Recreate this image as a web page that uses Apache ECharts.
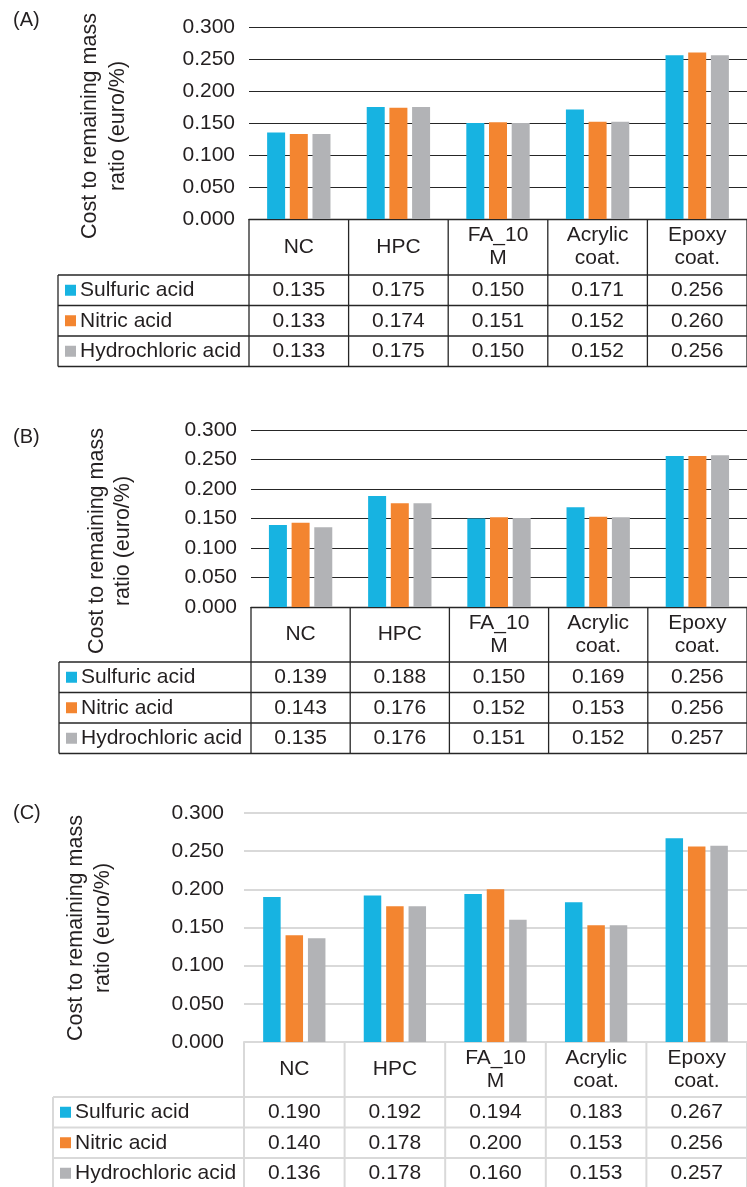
<!DOCTYPE html>
<html>
<head>
<meta charset="utf-8">
<script src="https://cdn.jsdelivr.net/npm/echarts@6/dist/echarts.min.js"></script>
<style>
  html, body { margin: 0; padding: 0; background: #fff; }
  #chart { width: 747px; height: 1187px; }
</style>
</head>
<body>
<div id="chart"></div>
<script>
// Categories and acid series
const categories = ['NC', 'HPC', 'FA_10\nM', 'Acrylic\ncoat.', 'Epoxy\ncoat.'];
const seriesNames = ['Sulfuric acid', 'Nitric acid', 'Hydrochloric acid'];
const yTicks = [0, 0.05, 0.1, 0.15, 0.2, 0.25, 0.3];
const axisTitle = 'Cost to remaining mass\nratio (euro/%)';

// Panel (A)
const sulfuricA = [0.135, 0.175, 0.150, 0.171, 0.256];
const nitricA   = [0.133, 0.174, 0.151, 0.152, 0.260];
const hydroA    = [0.133, 0.175, 0.150, 0.152, 0.256];
// Panel (B)
const sulfuricB = [0.139, 0.188, 0.150, 0.169, 0.256];
const nitricB   = [0.143, 0.176, 0.152, 0.153, 0.256];
const hydroB    = [0.135, 0.176, 0.151, 0.152, 0.257];
// Panel (C)
const sulfuricC = [0.190, 0.192, 0.194, 0.183, 0.267];
const nitricC   = [0.140, 0.178, 0.200, 0.153, 0.256];
const hydroC    = [0.136, 0.178, 0.160, 0.153, 0.257];

const colors = ['#17b3e1', '#f38530', '#b2b3b6'];
const FONT = '"Liberation Sans", Arial, Helvetica, sans-serif';
const FS = 21;
const TEXT = '#231f20';

const panels = [
  { label: '(A)', data: [sulfuricA, nitricA, hydroA],
    grid: { left: 249, top: 27, width: 508, height: 192 },
    tableLeft: 58, headerH: 56, rowH: 30.5, labelY: 20,
    titleX: 104, titleY: 126, titleLH: 28, tickMargin: 14,
    gridColor: '#262626', gridWidth: 1, tableColor: '#262626', tableWidth: 1.3,
    barWidth: 18, barGap: '26%' },
  { label: '(B)', data: [sulfuricB, nitricB, hydroB],
    grid: { left: 251, top: 430, width: 504, height: 177 },
    tableLeft: 59, headerH: 55, rowH: 30.5, labelY: 437,
    titleX: 110, titleY: 541, titleLH: 26, tickMargin: 14,
    gridColor: '#262626', gridWidth: 1, tableColor: '#262626', tableWidth: 1.3,
    barWidth: 18, barGap: '26%' },
  { label: '(C)', data: [sulfuricC, nitricC, hydroC],
    grid: { left: 244, top: 813, width: 504, height: 229 },
    tableLeft: 53, headerH: 55, rowH: 30.5, labelY: 813,
    titleX: 89.5, titleY: 928, titleLH: 27, tickMargin: 20,
    gridColor: '#d9d9d9', gridWidth: 2, tableColor: '#d9d9d9', tableWidth: 2,
    barWidth: 17.5, barGap: '28%' }
];

const chart = echarts.init(document.getElementById('chart'), null, { renderer: 'canvas' });

const option = {
  animation: false,
  backgroundColor: '#fff',
  grid: panels.map(p => Object.assign({ containLabel: false }, p.grid)),
  xAxis: panels.map((p, i) => ({
    type: 'category', gridIndex: i, data: categories,
    axisLine: { show: true, lineStyle: { color: p.tableColor, width: p.tableWidth } },
    axisTick: { show: false },
    axisLabel: {
      interval: 0, margin: p.headerH / 2, verticalAlign: 'middle',
      fontFamily: FONT, fontSize: FS, color: TEXT, lineHeight: 23
    }
  })),
  yAxis: panels.map((p, i) => ({
    type: 'value', gridIndex: i,
    min: yTicks[0], max: yTicks[yTicks.length - 1], interval: 0.05,
    axisLine: { show: false }, axisTick: { show: false },
    axisLabel: {
      margin: p.tickMargin, fontFamily: FONT, fontSize: FS, color: TEXT,
      formatter: v => v.toFixed(3)
    },
    splitLine: { show: true, lineStyle: { color: p.gridColor, width: p.gridWidth } }
  })),
  series: []
};

panels.forEach((p, i) => {
  p.data.forEach((vals, s) => {
    option.series.push({
      type: 'bar', name: seriesNames[s], xAxisIndex: i, yAxisIndex: i,
      data: vals, barWidth: p.barWidth, barGap: p.barGap,
      itemStyle: { color: colors[s] }
    });
  });
});

chart.setOption(option);

// Data table, panel letters and axis titles
const graphic = [];
panels.forEach((p, i) => {
  const centers = categories.map((c, k) => chart.convertToPixel({ xAxisIndex: i }, k));
  const band = centers[1] - centers[0];
  const axisY = p.grid.top + p.grid.height;
  const rowsTop = axisY + p.headerH;
  const tableBottom = rowsTop + 3 * p.rowH;
  const right = p.grid.left + p.grid.width;
  const lineStyle = { stroke: p.tableColor, lineWidth: p.tableWidth };

  // vertical cell borders for the category columns
  for (let k = 0; k <= categories.length; k++) {
    const x = centers[0] - band / 2 + k * band;
    graphic.push({ type: 'line', shape: { x1: x, y1: axisY, x2: x, y2: tableBottom }, style: lineStyle, z: 10 });
  }
  // left border of the legend column
  graphic.push({ type: 'line', shape: { x1: p.tableLeft, y1: rowsTop, x2: p.tableLeft, y2: tableBottom }, style: lineStyle, z: 10 });
  // horizontal row borders
  for (let r = 0; r <= 3; r++) {
    const y = rowsTop + r * p.rowH;
    graphic.push({ type: 'line', shape: { x1: p.tableLeft, y1: y, x2: right, y2: y }, style: lineStyle, z: 10 });
  }
  // legend keys and values
  p.data.forEach((vals, s) => {
    const cy = rowsTop + (s + 0.5) * p.rowH;
    graphic.push({ type: 'rect', shape: { x: p.tableLeft + 7, y: cy - 5.5, width: 11, height: 11 },
      style: { fill: colors[s] }, z: 10 });
    graphic.push({ type: 'text', x: p.tableLeft + 22, y: cy,
      style: { text: seriesNames[s], fill: TEXT, font: FS + 'px ' + FONT, verticalAlign: 'middle', align: 'left' }, z: 10 });
    vals.forEach((v, k) => {
      graphic.push({ type: 'text', x: centers[k], y: cy,
        style: { text: v.toFixed(3), fill: TEXT, font: FS + 'px ' + FONT, verticalAlign: 'middle', align: 'center' }, z: 10 });
    });
  });
  // panel letter
  graphic.push({ type: 'text', x: 13, y: p.labelY,
    style: { text: p.label, fill: TEXT, font: '20px ' + FONT, verticalAlign: 'middle', align: 'left' }, z: 10 });
  // rotated axis title
  graphic.push({ type: 'text', x: p.titleX, y: p.titleY, rotation: Math.PI / 2,
    style: { text: axisTitle, fill: TEXT, font: '21.5px ' + FONT, lineHeight: p.titleLH,
      verticalAlign: 'middle', align: 'center' }, z: 10 });
});

chart.setOption({ graphic: graphic });
</script>
</body>
</html>
